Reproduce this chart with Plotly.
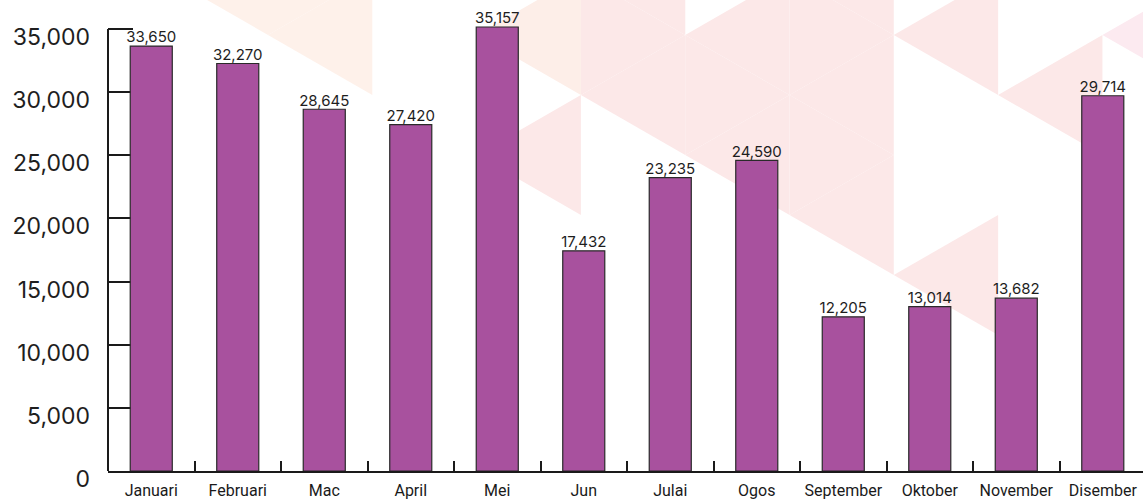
import plotly.graph_objects as go

# ---- data ----
months = ["Januari", "Februari", "Mac", "April", "Mei", "Jun", "Julai", "Ogos",
          "September", "Oktober", "November", "Disember"]
values = [33650, 32270, 28645, 27420, 35157, 17432, 23235, 24590, 12205, 13014, 13682, 29714]
y_tick_vals = [0, 5000, 10000, 15000, 20000, 25000, 30000, 35000]
y_tick_text = ["0", "5,000", "10,000", "15,000", "20,000", "25,000", "30,000", "35,000"]
bar_labels = [f"{v:,}" for v in values]

# ---- figure geometry (pixels) ----
W, H = 1143, 501
ML, MR, MT, MB = 108, 0, 10, 30
PW, PH = W - ML - MR, H - MT - MB
Y_AXIS_TOP = 35000
# 35,000 sits 29 px from the top of the figure
Y_RANGE_TOP = PH * Y_AXIS_TOP / (H - MB - 29)

fig = go.Figure()
fig.add_trace(go.Bar(
    x=months, y=values, cliponaxis=False,
    marker=dict(color="#A8519E", line=dict(color="#2a2a2a", width=1.2)),
    hoverinfo="skip",
))
# value labels above bars
fig.add_trace(go.Scatter(
    x=months, y=values, mode="text", text=bar_labels, textposition="top center",
    cliponaxis=False, hoverinfo="skip",
    textfont=dict(family="Inter, Lato, sans-serif", size=15, color="#1e1e1e"),
))

# ---- decorative background triangles (watermark) ----
COLW, HALF = 104.3, 60.0
X0 = 268.0


def lx(i):
    return X0 + COLW * i


def to_paper(px, py):
    return (px - ML) / PW, (H - MB - py) / PH


def tri_path(kind, i, ya):
    ax = lx(i)
    bx = lx(i + 1) if kind == "L" else lx(i - 1)
    pts = [(ax, ya), (bx, ya - HALF), (bx, ya + HALF)]
    pp = [to_paper(*p) for p in pts]
    return "M {:.4f} {:.4f} L {:.4f} {:.4f} L {:.4f} {:.4f} Z".format(
        pp[0][0], pp[0][1], pp[1][0], pp[1][1], pp[2][0], pp[2][1])


P1, P2, K, V = "#FEF1EA", "#FDEEE8", "#FCE8E8", "#FCEAF0"
tris = [
    ("L", -1, -25, P1), ("R", 1, -25, P1), ("L", 0, 35, P1),
    ("L", 2, 35, P2), ("L", 2, 155, K),
    ("L", 3, -25, K), ("R", 4, 35, K), ("L", 3, 95, K),
    ("L", 4, 35, K), ("R", 5, 95, K), ("L", 4, 155, K),
    ("L", 5, -25, K), ("R", 6, 35, K), ("L", 5, 95, K), ("R", 6, 155, K), ("L", 5, 215, K),
    ("L", 6, 35, K), ("L", 6, 275, K),
    ("L", 7, 95, K),
    ("L", 8, 35, V),
]
shapes = []
for kind, i, ya, col in tris:
    shapes.append(dict(type="path", path=tri_path(kind, i, ya), xref="paper", yref="paper",
                       fillcolor=col, line=dict(width=0), layer="below"))
# y-axis line, only from 0 up to the top tick
shapes.append(dict(type="line", xref="paper", yref="y", x0=0, x1=0, y0=0, y1=Y_AXIS_TOP,
                   line=dict(color="#1a1a1a", width=2), layer="above"))

fig.update_layout(
    width=W, height=H,
    margin=dict(l=ML, r=MR, t=MT, b=MB, pad=0, autoexpand=False),
    paper_bgcolor="white", plot_bgcolor="rgba(0,0,0,0)",
    bargap=0.514, showlegend=False, shapes=shapes,
    xaxis=dict(
        range=[-0.5, 11.465], showline=True, linecolor="#1a1a1a", linewidth=2,
        ticks="inside", tickson="boundaries", ticklen=10, tickwidth=2, tickcolor="#1a1a1a",
        showgrid=False, zeroline=False, automargin=False, tickangle=0,
        tickfont=dict(family="Roboto, sans-serif", size=16, color="#1a1a1a"),
        ticklabelstandoff=4, fixedrange=True,
    ),
    yaxis=dict(
        range=[0, Y_RANGE_TOP], tickvals=y_tick_vals, ticktext=y_tick_text,
        showline=False,
        ticks="inside", ticklen=25, tickwidth=2, tickcolor="#1a1a1a",
        showgrid=False, zeroline=False, layer="below traces", automargin=False,
        tickfont=dict(family="Inter, Lato, sans-serif", size=23, color="#1e1e1e"),
        ticklabelstandoff=17, ticklabelshift=8, fixedrange=True,
    ),
)

fig.write_html("out.html", config={"displayModeBar": False},
               post_script="document.body.style.margin='0';document.body.style.padding='0';")
